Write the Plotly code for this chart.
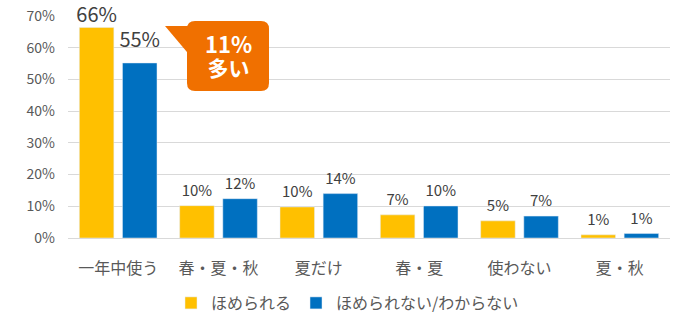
import plotly.graph_objects as go

categories = ["一年中使う", "春・夏・秋", "夏だけ", "春・夏", "使わない", "夏・秋"]
praised = [66.4, 10.2, 9.8, 7.3, 5.4, 1.0]
not_praised = [55.2, 12.4, 14.0, 10.1, 6.9, 1.4]
series_names = ["ほめられる", "ほめられない/わからない"]
y_ticks = [0, 10, 20, 30, 40, 50, 60, 70]
callout_lines = ["11%", "多い"]

YELLOW = "#FFC000"
BLUE = "#0070C0"
ORANGE = "#F07000"
FONT = "Noto Sans CJK JP"

# plot area in pixels
PL, PR, PT, PB = 68, 670, 16, 238
W, H = 700, 326


def px(x):
    return (x - PL) / (PR - PL)


def py(y):
    return (PB - y) / (PB - PT)


fig = go.Figure()
for name, vals, col, og in [(series_names[0], praised, YELLOW, "a"),
                            (series_names[1], not_praised, BLUE, "b")]:
    fig.add_trace(go.Bar(x=categories, y=vals, name=name, marker_color=col,
                         offsetgroup=og, hoverinfo="skip"))

for vals, og in [(praised, "a"), (not_praised, "b")]:
    sizes = [0 if v > 60 else (16 if v > 40 else 8) for v in vals]
    fsz = [20 if v > 40 else 15 for v in vals]
    fig.add_trace(go.Scatter(
        x=categories, y=vals, mode="markers+text", offsetgroup=og,
        marker=dict(size=sizes, opacity=0, color="white"),
        text=[f"{round(v)}%" for v in vals], textposition="top center",
        textfont=dict(family=FONT, size=fsz, color="#404040"),
        showlegend=False, hoverinfo="skip", cliponaxis=False))

# callout bubble
L, R, T, B, r = 187, 269, 21, 91, 8
rect = (f"M{px(L + r)},{py(T)} L{px(R - r)},{py(T)} Q{px(R)},{py(T)} {px(R)},{py(T + r)} "
        f"L{px(R)},{py(B - r)} Q{px(R)},{py(B)} {px(R - r)},{py(B)} "
        f"L{px(L + r)},{py(B)} Q{px(L)},{py(B)} {px(L)},{py(B - r)} "
        f"L{px(L)},{py(T + r)} Q{px(L)},{py(T)} {px(L + r)},{py(T)} Z")
tail = f"M{px(165)},{py(26)} L{px(192)},{py(26)} L{px(192)},{py(58)} Z"
shapes = [dict(type="path", xref="paper", yref="paper", path=p,
               fillcolor=ORANGE, line=dict(width=0), layer="above")
          for p in (tail, rect)]

annotations = [
    dict(xref="paper", yref="paper", x=px(228), y=py(55),
         text=(f"<b><span style='font-size:22px'>{callout_lines[0]}</span><br>"
               f"<span style='font-size:21px'>{callout_lines[1]}</span></b>"),
         showarrow=False, font=dict(family=FONT, size=18, color="white"),
         xanchor="center", yanchor="middle", align="center"),
]

fig.update_layout(
    width=W, height=H,
    margin=dict(l=PL, r=W - PR, t=PT, b=H - PB, autoexpand=False),
    paper_bgcolor="white", plot_bgcolor="white",
    barmode="group", bargap=0.14, bargroupgap=0.2,
    scattermode="group", scattergap=0.14,
    font=dict(family=FONT, color="#595959"),
    shapes=shapes, annotations=annotations,
    showlegend=True,
    legend=dict(orientation="h", x=171 / W, xanchor="left", xref="container",
                y=1 - 303 / H, yanchor="middle", yref="container",
                font=dict(family=FONT, size=16, color="#595959"),
                traceorder="normal",
                itemclick=False, itemdoubleclick=False),
)
fig.update_xaxes(type="category", showgrid=False, showline=False, ticks="",
                 tickfont=dict(family=FONT, size=16, color="#595959"),
                 ticklabelstandoff=19, fixedrange=True, automargin=False)
fig.update_yaxes(range=[0, 70], tickvals=y_ticks, ticktext=[f"{t}%" for t in y_ticks],
                 showgrid=True, gridcolor="#D9D9D9", gridwidth=1,
                 zeroline=True, zerolinecolor="#D9D9D9", zerolinewidth=1,
                 showline=False, ticks="",
                 tickfont=dict(family=FONT, size=14, color="#595959"),
                 ticklabelstandoff=12, fixedrange=True, automargin=False)

fig.write_html("out.html", config={"displayModeBar": False})
